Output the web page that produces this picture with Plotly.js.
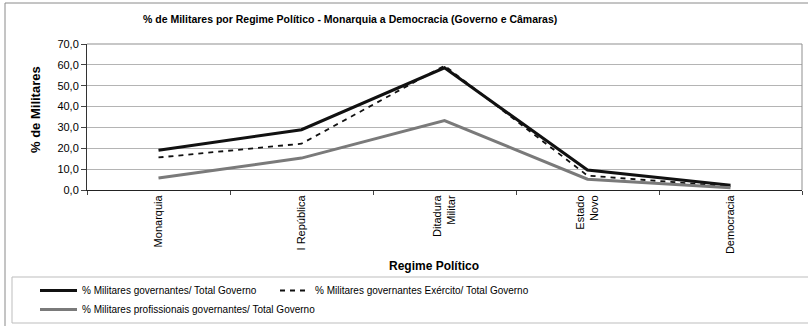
<!DOCTYPE html>
<html>
<head>
<meta charset="utf-8">
<script src="https://cdn.plot.ly/plotly-3.0.1.min.js"></script>
<style>
  html, body { margin: 0; padding: 0; background: #fff; }
  #chart { width: 808px; height: 326px; }
</style>
</head>
<body>
<div id="chart"></div>
<script>
// Regimes (tick labels on the category axis)
const regimes = ['Monarquia', 'I República', 'Ditadura<br>Militar', 'Estado<br>Novo', 'Democracia'];

// Share of military members (%) per regime
const militaresGoverno = [19.1, 28.9, 58.6, 9.6, 2.3];
const militaresExercito = [15.6, 22.2, 59.6, 6.9, 1.7];
const militaresProfissionais = [5.7, 15.3, 33.3, 5.2, 1.1];

const seriesNames = [
  '% Militares governantes/ Total Governo',
  '% Militares governantes Exército/ Total Governo',
  '% Militares profissionais governantes/ Total Governo'
];

const yTicks = [0, 10, 20, 30, 40, 50, 60, 70];

// plot area geometry in pixels
const W = 808, H = 326;
const L = 87, R = 6, T = 44, B = 136;
const pw = W - L - R, ph = H - T - B;
const px = x => (x - L) / pw;          // pixel x -> paper x
const py = y => (H - B - y) / ph;      // pixel y -> paper y

const font = 'Liberation Sans, Arial, sans-serif';

const traces = [
  {
    x: regimes, y: militaresGoverno, name: seriesNames[0], type: 'scatter', mode: 'lines',
    line: { color: '#111111', width: 3 }, legend: 'legend'
  },
  {
    x: regimes, y: militaresExercito, name: seriesNames[1], type: 'scatter', mode: 'lines',
    line: { color: '#111111', width: 1.8, dash: '5px,5px' }, legend: 'legend2'
  },
  {
    x: regimes, y: militaresProfissionais, name: seriesNames[2], type: 'scatter', mode: 'lines',
    line: { color: '#7a7a7a', width: 3 }, legend: 'legend'
  }
];

const layout = {
  width: W, height: H,
  margin: { l: L, r: R, t: T, b: B, autoexpand: false },
  paper_bgcolor: '#ffffff', plot_bgcolor: '#ffffff',
  separators: ',.',
  font: { family: font, color: '#000', size: 11 },
  title: {
    text: '<b>% de Militares por Regime Político - Monarquia a Democracia (Governo e Câmaras)</b>',
    font: { family: font, size: 10.5, color: '#000' },
    x: 143 / W, xanchor: 'left', xref: 'container',
    y: 1 - 19 / H, yanchor: 'middle', yref: 'container'
  },
  xaxis: {
    type: 'category',
    range: [-0.5, regimes.length - 0.5],
    showline: true, linecolor: '#222', linewidth: 1,
    ticks: 'outside', ticklen: 4, tickcolor: '#444', tickson: 'boundaries',
    tickangle: -90,
    tickfont: { family: font, size: 11, color: '#000' },
    showgrid: false, zeroline: false, fixedrange: true
  },
  yaxis: {
    range: [0, 70],
    tickvals: yTicks, tickformat: '.1f',
    showline: true, linecolor: '#333', linewidth: 1,
    ticks: 'outside', ticklen: 5, tickcolor: '#444',
    showgrid: true, gridcolor: '#b4b4b4', gridwidth: 1,
    tickfont: { family: font, size: 11, color: '#000' },
    zeroline: false, fixedrange: true
  },
  showlegend: true,
  legend: {
    orientation: 'v', x: px(35), y: py(276), xanchor: 'left', yanchor: 'top',
    bgcolor: 'rgba(0,0,0,0)', borderwidth: 0, tracegroupgap: 0, itemwidth: 37,
    font: { family: font, size: 10, color: '#000' }
  },
  legend2: {
    orientation: 'v', x: px(275), y: py(276), xanchor: 'left', yanchor: 'top',
    bgcolor: 'rgba(0,0,0,0)', borderwidth: 0,
    font: { family: font, size: 10, color: '#000' }
  },
  annotations: [
    {
      text: '<b>% de Militares</b>', textangle: -90,
      xref: 'paper', yref: 'paper', x: px(35), y: py(110),
      xanchor: 'center', yanchor: 'middle', showarrow: false,
      font: { family: font, size: 13, color: '#000' }
    },
    {
      text: '<b>Regime Político</b>',
      xref: 'paper', yref: 'paper', x: px(434), y: py(266),
      xanchor: 'center', yanchor: 'middle', showarrow: false,
      font: { family: font, size: 12, color: '#000' }
    }
  ],
  shapes: [
    // outer chart frame
    { type: 'rect', xref: 'paper', yref: 'paper',
      x0: px(5), x1: px(814), y0: py(3), y1: py(332),
      line: { color: '#8a8a8a', width: 1 }, fillcolor: 'rgba(0,0,0,0)' },
    // legend frame
    { type: 'rect', xref: 'paper', yref: 'paper',
      x0: px(12), x1: px(814), y0: py(277), y1: py(323),
      line: { color: '#bdbdbd', width: 1 }, fillcolor: 'rgba(0,0,0,0)' },
    // plot area top and right edges
    { type: 'line', xref: 'paper', yref: 'paper', x0: 0, x1: 1, y0: 1, y1: 1,
      line: { color: '#8f8f8f', width: 1 } },
    { type: 'line', xref: 'paper', yref: 'paper', x0: 1, x1: 1, y0: 0, y1: 1,
      line: { color: '#8f8f8f', width: 1 } }
  ]
};

Plotly.newPlot('chart', traces, layout, { displayModeBar: false, staticPlot: true });
</script>
</body>
</html>
